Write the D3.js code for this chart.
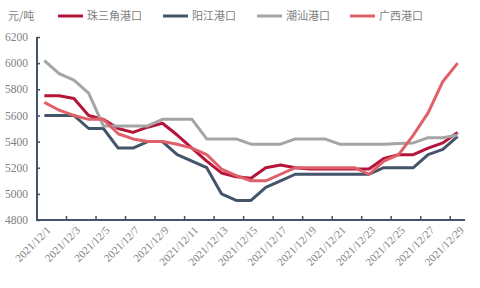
<!DOCTYPE html>
<html>
<head>
<meta charset="utf-8">
<script src="https://cdn.jsdelivr.net/npm/d3@7/dist/d3.min.js"></script>
<style>
  body { margin: 0; background: #fff; }
  svg { display: block; }
</style>
</head>
<body>
<script>
// 日期 2021/12/1 - 2021/12/29
var dates = [];
for (var d = 1; d <= 29; d++) dates.push("2021/12/" + d);

var zsj = [5750,5750,5730,5600,5570,5500,5470,5510,5540,5450,5350,5250,5160,5130,5120,5200,5220,5200,5190,5190,5190,5190,5190,5270,5300,5300,5350,5390,5470];
var yj  = [5600,5600,5600,5500,5500,5350,5350,5400,5400,5300,5250,5200,5000,4950,4950,5050,5100,5150,5150,5150,5150,5150,5150,5200,5200,5200,5300,5340,5440];
var cs  = [6020,5920,5870,5770,5520,5520,5520,5520,5570,5570,5570,5420,5420,5420,5380,5380,5380,5420,5420,5420,5380,5380,5380,5380,5385,5390,5430,5430,5450];
var gx  = [5700,5640,5600,5570,5570,5460,5420,5400,5400,5380,5350,5300,5190,5140,5100,5100,5150,5200,5200,5200,5200,5200,5150,5250,5300,5450,5620,5860,6000];

var names = ["珠三角港口","阳江港口","潮汕港口","广西港口"];
var colors = ["#b5143a","#44546a","#a5a5a5","#e0606a"];
var yTicks = [4800,5000,5200,5400,5600,5800,6000,6200];

var series = [zsj, yj, cs, gx];

var svg = d3.select("body").append("svg")
    .attr("width", 480)
    .attr("height", 288);

var x = d3.scaleBand().domain(dates).range([37, 465]).padding(0);
var y = d3.scaleLinear().domain([4800, 6200]).range([220, 37]);

// y轴
var yAxis = d3.axisLeft(y).tickValues(yTicks).tickFormat(d3.format("d")).tickSize(-3).tickPadding(9);
var gy = svg.append("g").attr("transform", "translate(37,0)").call(yAxis);
gy.select(".domain").remove();
gy.selectAll(".tick line").attr("stroke", "#44546a").attr("stroke-width", 1.5);
gy.selectAll("text")
    .attr("fill", "#808080")
    .style("font-family", "'Liberation Serif', serif")
    .style("font-size", "11.5px");
svg.append("line")
    .attr("x1", 37).attr("x2", 37).attr("y1", 37).attr("y2", 220)
    .attr("stroke", "#44546a").attr("stroke-width", 2);

// x轴
var xAxis = d3.axisBottom(x)
    .tickValues(dates.filter((d, i) => i % 2 == 0))
    .tickSize(0).tickPadding(6);
var gx_ = svg.append("g").attr("transform", "translate(0,220)").call(xAxis);
gx_.select(".domain").remove();
gx_.selectAll("text")
    .attr("fill", "#808080")
    .style("font-family", "'Liberation Serif', serif")
    .style("font-size", "11px")
    .attr("text-anchor", "end")
    .attr("dy", "0.35em")
    .attr("transform", "translate(0,4) rotate(-45)");
// 刻度线：每两个类别一个
dates.forEach(function (d, i) {
    if (i > 0 && i % 2 == 0) {
        svg.append("line")
            .attr("x1", x(d)).attr("x2", x(d))
            .attr("y1", 220).attr("y2", 216)
            .attr("stroke", "#44546a").attr("stroke-width", 1.5);
    }
});
svg.append("line")
    .attr("x1", 36).attr("x2", 465).attr("y1", 220).attr("y2", 220)
    .attr("stroke", "#44546a").attr("stroke-width", 2);

// 折线
var line = d3.line()
    .x((v, i) => x(dates[i]) + x.bandwidth() / 2)
    .y(v => y(v));

series.forEach(function (s, k) {
    svg.append("path")
        .datum(s)
        .attr("d", line)
        .attr("fill", "none")
        .attr("stroke", colors[k])
        .attr("stroke-width", 3)
        .attr("stroke-linejoin", "round");
});

// 单位
svg.append("text")
    .attr("x", 8).attr("y", 20)
    .attr("fill", "#808080")
    .style("font-family", "'Noto Sans CJK SC', sans-serif")
    .style("font-size", "11px")
    .text("元/吨");

// 图例
var legX = [58, 163, 257, 350];
names.forEach(function (n, k) {
    var g = svg.append("g").attr("transform", "translate(" + legX[k] + ",16)");
    g.append("line")
        .attr("x1", 0).attr("x2", 25).attr("y1", 0).attr("y2", 0)
        .attr("stroke", colors[k]).attr("stroke-width", 3);
    g.append("text")
        .attr("x", 29).attr("y", 4)
        .attr("fill", "#808080")
        .style("font-family", "'Noto Sans CJK SC', sans-serif")
        .style("font-size", "11px")
        .text(n);
});
</script>
</body>
</html>
